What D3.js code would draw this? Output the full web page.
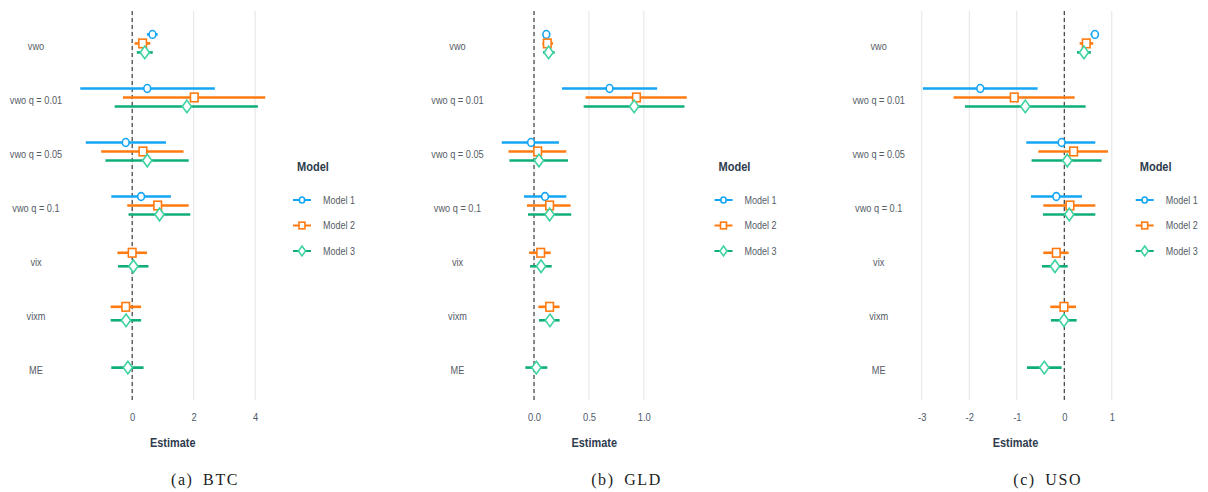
<!DOCTYPE html>
<html><head><meta charset="utf-8">
<script src="https://cdn.jsdelivr.net/npm/d3@7"></script>
<style>
html,body{margin:0;padding:0;background:#fff;}
svg{display:block;}
</style></head>
<body>
<svg id="c" width="1208" height="492"></svg>
<script>
const categories = ["vwo","vwo q = 0.01","vwo q = 0.05","vwo q = 0.1","vix","vixm","ME"];
const models = ["Model 1","Model 2","Model 3"];
const panelNames = ["(a) BTC","(b) GLD","(c) USO"];

const btcTicks = [0,2,4];
const gldTicks = [0.0,0.5,1.0];
const usoTicks = [-3,-2,-1,0,1];

// BTC
const btcM1Est = [0.66, 0.49, -0.21, 0.29, null, null, null];
const btcM1Lo  = [0.48, -1.69, -1.51, -0.68, null, null, null];
const btcM1Hi  = [0.83, 2.69, 1.10, 1.26, null, null, null];
const btcM2Est = [0.34, 2.02, 0.35, 0.83, 0.00, -0.21, null];
const btcM2Lo  = [0.08, -0.30, -1.01, -0.16, -0.48, -0.70, null];
const btcM2Hi  = [0.59, 4.33, 1.67, 1.84, 0.48, 0.29, null];
const btcM3Est = [0.41, 1.78, 0.49, 0.89, 0.04, -0.20, -0.14];
const btcM3Lo  = [0.15, -0.57, -0.87, -0.12, -0.46, -0.70, -0.68];
const btcM3Hi  = [0.67, 4.09, 1.84, 1.89, 0.53, 0.29, 0.37];
// GLD
const gldM1Est = [0.112, 0.688, -0.027, 0.100, null, null, null];
const gldM1Lo  = [0.088, 0.255, -0.294, -0.091, null, null, null];
const gldM1Hi  = [0.139, 1.121, 0.227, 0.294, null, null, null];
const gldM2Est = [0.121, 0.933, 0.033, 0.142, 0.061, 0.142, null];
const gldM2Lo  = [0.076, 0.470, -0.233, -0.064, -0.045, 0.039, null];
const gldM2Hi  = [0.173, 1.391, 0.294, 0.333, 0.152, 0.233, null];
const gldM3Est = [0.133, 0.912, 0.045, 0.142, 0.064, 0.145, 0.021];
const gldM3Lo  = [0.082, 0.452, -0.224, -0.055, -0.036, 0.045, -0.079];
const gldM3Hi  = [0.188, 1.370, 0.309, 0.339, 0.161, 0.233, 0.121];
// USO
const usoM1Est = [0.646, -1.768, -0.056, -0.168, null, null, null];
const usoM1Lo  = [0.554, -2.975, -0.800, -0.702, null, null, null];
const usoM1Hi  = [0.723, -0.561, 0.653, 0.372, null, null, null];
const usoM2Est = [0.463, -1.053, 0.196, 0.119, -0.168, -0.007, null];
const usoM2Lo  = [0.323, -2.330, -0.547, -0.442, -0.442, -0.295, null];
const usoM2Hi  = [0.611, 0.218, 0.919, 0.653, 0.091, 0.246, null];
const usoM3Est = [0.414, -0.821, 0.063, 0.105, -0.196, -0.007, -0.421];
const usoM3Lo  = [0.267, -2.091, -0.688, -0.449, -0.470, -0.281, -0.786];
const usoM3Hi  = [0.561, 0.449, 0.786, 0.653, 0.070, 0.260, -0.056];

const hyph = f => (d => f(d).replace("\u2212", "-"));
const panels = [
  {name: panelNames[0], ticks: btcTicks, fmt: hyph(d3.format("d")),
   est: [btcM1Est, btcM2Est, btcM3Est], lo: [btcM1Lo, btcM2Lo, btcM3Lo], hi: [btcM1Hi, btcM2Hi, btcM3Hi]},
  {name: panelNames[1], ticks: gldTicks, fmt: hyph(d3.format(".1f")),
   est: [gldM1Est, gldM2Est, gldM3Est], lo: [gldM1Lo, gldM2Lo, gldM3Lo], hi: [gldM1Hi, gldM2Hi, gldM3Hi]},
  {name: panelNames[2], ticks: usoTicks, fmt: hyph(d3.format("d")),
   est: [usoM1Est, usoM2Est, usoM3Est], lo: [usoM1Lo, usoM2Lo, usoM3Lo], hi: [usoM1Hi, usoM2Hi, usoM3Hi]}
];

const lineColors = ["#14a5f5", "#ff7b12", "#0fae78"];
const markColors = ["#14a5f5", "#ff7b12", "#3fd2a2"];
const shapes = ["circle", "square", "diamond"];
const SANS = "Liberation Sans, Arial, sans-serif";

const svg = d3.select("#c");
const panelLeft = [71, 492.5, 913.7];
const plotW = 203.5;
const plotTop = 11, plotBot = 400;

function drawMarker(g, shape, x, y, color, s) {
  if (shape === "circle") {
    g.append("ellipse").attr("cx", x).attr("cy", y).attr("rx", 3.4*s).attr("ry", 3.9*s)
      .attr("fill", "#fff").attr("stroke", color).attr("stroke-width", 1.6);
  } else if (shape === "square") {
    g.append("rect").attr("x", x-3.8*s).attr("y", y-4.3*s).attr("width", 7.6*s).attr("height", 8.6*s)
      .attr("fill", "#fff").attr("stroke", color).attr("stroke-width", 1.6);
  } else {
    const w = 4.6*s, h = 6.3*s;
    g.append("path").attr("d", `M${x},${y-h}L${x+w},${y}L${x},${y+h}L${x-w},${y}Z`)
      .attr("fill", "#fff").attr("stroke", color).attr("stroke-width", 1.6);
  }
}

function sText(g, x, y, txt, size, sx, opts) {
  const t = g.append("text").attr("transform", `translate(${x},${y}) scale(${sx},1)`)
    .attr("font-family", SANS).attr("font-size", size).text(txt);
  Object.entries(opts || {}).forEach(([k, v]) => t.attr(k, v));
  return t;
}

panels.forEach((p, pi) => {
  const left = panelLeft[pi];
  const allLo = p.lo.flat().filter(v => v !== null);
  const allHi = p.hi.flat().filter(v => v !== null);
  const mn = d3.min(allLo), mx = d3.max(allHi);
  const pad = (mx - mn) * 0.05;
  const x = d3.scaleLinear().domain([mn - pad, mx + pad]).range([left, left + plotW]);
  const yStep = (plotBot - plotTop) / (categories.length - 1 + 1.2);
  const yC = c => plotTop + yStep * (0.6 + categories.indexOf(c));

  const g = svg.append("g");
  g.selectAll(".grid").data(p.ticks).enter().append("line")
    .attr("x1", d => x(d)).attr("x2", d => x(d)).attr("y1", plotTop).attr("y2", plotBot)
    .attr("stroke", "#e3e3e3").attr("stroke-width", 1);
  g.append("line").attr("x1", x(0)).attr("x2", x(0)).attr("y1", plotTop).attr("y2", plotBot)
    .attr("stroke", "#333").attr("stroke-width", 1.1).attr("stroke-dasharray", "4,3");

  const ax = d3.axisBottom(x).tickValues(p.ticks).tickFormat(p.fmt).tickSize(0).tickPadding(0);
  const axg = g.append("g").attr("transform", `translate(0,${plotBot + 13})`).call(ax);
  axg.select(".domain").remove();
  axg.selectAll("text").attr("fill", "#4d5a6a").attr("font-family", SANS)
    .attr("font-size", 11).attr("dy", "0.71em").attr("transform", "scale(0.85,1)");

  sText(g, left + plotW/2, 447, "Estimate", 13, 0.84,
    {"text-anchor": "middle", "font-weight": "bold", "fill": "#2e3c4e"});

  const ax2 = d3.axisLeft(d3.scalePoint().domain(categories).range([yC(categories[0]), yC(categories[6])]))
    .tickSize(0).tickPadding(0);
  const ayg = g.append("g").attr("transform", `translate(${left - 35},2)`).call(ax2);
  ayg.select(".domain").remove();
  ayg.selectAll("text").attr("text-anchor", "middle").attr("fill", "#555c66")
    .attr("font-family", SANS).attr("font-size", 11.5).attr("transform", "scale(0.8,1)");

  const dodgeW = 27;
  categories.forEach((c, ci) => {
    const present = [0,1,2].filter(m => p.est[m][ci] !== null);
    const n = present.length;
    present.forEach((m, k) => {
      const yy = yC(c) - dodgeW/2 + dodgeW/n * (k + 0.5);
      g.append("line").attr("x1", x(p.lo[m][ci])).attr("x2", x(p.hi[m][ci]))
        .attr("y1", yy).attr("y2", yy).attr("stroke", lineColors[m]).attr("stroke-width", 2.6);
      drawMarker(g, shapes[m], x(p.est[m][ci]), yy, markColors[m], 1);
    });
  });

  const lx = left + 222;
  sText(g, lx + 4, 171, "Model", 13, 0.85, {"font-weight": "bold", "fill": "#2e3c4e"});
  models.forEach((m, mi) => {
    const ly = 200 + mi * 25.5;
    g.append("line").attr("x1", lx).attr("x2", lx + 18).attr("y1", ly).attr("y2", ly)
      .attr("stroke", lineColors[mi]).attr("stroke-width", 2);
    drawMarker(g, shapes[mi], lx + 9, ly, markColors[mi], 0.78);
    sText(g, lx + 30, ly, m, 11, 0.82, {"dy": "0.35em", "fill": "#555c66"});
  });

  g.append("text").attr("x", left + 134).attr("y", 485).attr("text-anchor", "middle")
    .attr("font-family", "Liberation Serif, DejaVu Serif, serif").attr("font-size", 16)
    .attr("letter-spacing", "1.6px").attr("word-spacing", "4px")
    .attr("fill", "#222").text(p.name);
});
</script>
</body></html>
